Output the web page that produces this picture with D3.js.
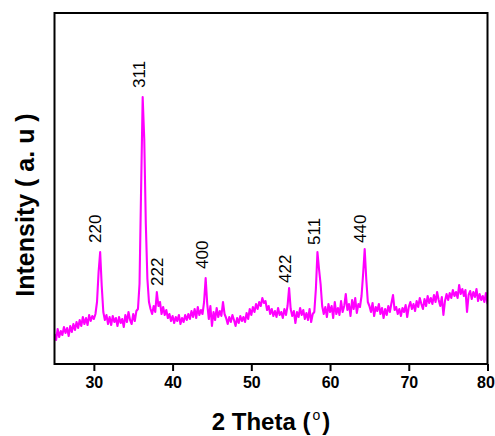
<!DOCTYPE html>
<html>
<head>
<meta charset="utf-8">
<script src="https://cdn.jsdelivr.net/npm/d3@7"></script>
<style>
  html, body { margin: 0; padding: 0; background: #fff; }
  svg { display: block; }
</style>
</head>
<body>
<svg id="chart" width="495" height="436"></svg>
<script>
// ---- data ----
const twoThetaStart = 25;
const twoThetaStep = 0.2;
const intensity = [
  30, 24, 35, 27, 33,
  29, 37, 31, 36, 28,
  38, 32, 40, 34, 42,
  36, 44, 38, 47, 40,
  46, 39, 49, 43, 48,
  45, 50, 62, 92, 112,
  78, 52, 44, 49, 40,
  47, 39, 48, 42, 46,
  38, 47, 41, 45, 37,
  49, 42, 52, 44, 40,
  50, 43, 53, 55, 80,
  175, 267, 225, 140, 85,
  62, 55, 50, 58, 52,
  72, 58, 62, 50, 57,
  49, 54, 46, 50, 43,
  48, 41, 47, 43, 49,
  40, 46, 42, 49, 44,
  50, 45, 53, 47, 55,
  46, 57, 49, 54, 50,
  62, 86, 60, 45, 58,
  38, 52, 44, 56, 47,
  53, 48, 62, 50, 46,
  40, 47, 42, 49, 44,
  38, 46, 41, 48, 43,
  47, 42, 51, 45, 55,
  49, 57, 52, 60, 55,
  62, 58, 66, 61, 63,
  54, 58, 50, 55, 48,
  53, 47, 56, 49, 52,
  46, 55, 49, 58, 76,
  55, 48, 53, 41, 52,
  47, 56, 49, 54, 45,
  51, 44, 55, 42, 50,
  52, 75, 112, 95, 80,
  58, 50, 57, 47, 60,
  52, 58, 46, 62, 50,
  56, 49, 63, 52, 58,
  70, 54, 60, 48, 64,
  55, 66, 51, 60, 57,
  68, 90, 115, 85, 62,
  58, 52, 61, 48, 57,
  53, 60, 50, 56, 46,
  55, 49, 58, 52, 61,
  69, 54, 57, 50, 55,
  48, 56, 52, 59, 47,
  57, 62, 55, 60, 53,
  63, 57, 66, 60, 55,
  65, 58, 68, 61, 66,
  60, 69, 62, 72, 64,
  58, 67, 49, 63, 70,
  64, 71, 66, 74, 68,
  72, 66, 79, 70, 75,
  68, 74, 52, 69, 73,
  65, 72, 67, 75, 63,
  70, 64, 68, 62, 71,
  60
];
const xTicks = [30, 40, 50, 60, 70, 80];
const peakLabels = ["220", "311", "222", "400", "422", "511", "440"];
const labelTheta = [30.92, 36.51, 38.74, 44.53, 55.09, 58.78, 64.63];
const labelIntensity = [121, 276, 78, 95, 81, 119, 121];

// ---- layout ----
const svg = d3.select("#chart");
const plotL = 54.5, plotR = 487.5, plotT = 13, plotB = 364;
const x = d3.scaleLinear().domain([25, 80]).range([plotL, plotR]);
const y = d3.scaleLinear().domain([0, 351]).range([plotB, plotT]);

const points = intensity.map((v, i) => ({ t: twoThetaStart + i * twoThetaStep, v }));

svg.append("defs").append("clipPath").attr("id", "clip")
  .append("rect").attr("x", plotL).attr("y", plotT)
  .attr("width", plotR - plotL).attr("height", plotB - plotT);

// trace
svg.append("path")
  .datum(points)
  .attr("clip-path", "url(#clip)")
  .attr("fill", "none")
  .attr("stroke", "#ff00ff")
  .attr("stroke-width", 2.1)
  .attr("stroke-linejoin", "round")
  .attr("d", d3.line().x(d => x(d.t)).y(d => y(d.v)));

// frame
svg.append("rect")
  .attr("x", plotL).attr("y", plotT)
  .attr("width", plotR - plotL).attr("height", plotB - plotT)
  .attr("fill", "none").attr("stroke", "#000").attr("stroke-width", 2);

// x axis
const xAxis = svg.append("g")
  .attr("transform", `translate(0,${plotB})`)
  .call(d3.axisBottom(x).tickValues(xTicks).tickSize(7).tickPadding(6).tickFormat(d3.format("d")));
xAxis.select(".domain").remove();
xAxis.selectAll(".tick line").attr("stroke", "#000").attr("stroke-width", 2);
xAxis.selectAll(".tick text")
  .attr("fill", "#000")
  .attr("dx", d => d === 80 ? -2 : 0)
  .style("font-family", "'Liberation Sans', Arial, sans-serif")
  .style("font-weight", "bold")
  .style("font-size", "16px");

// peak labels
svg.append("g").selectAll("text")
  .data(peakLabels)
  .join("text")
  .attr("transform", (d, i) => `translate(${x(labelTheta[i])},${y(labelIntensity[i])}) rotate(-90)`)
  .attr("text-anchor", "start")
  .style("font-family", "'Liberation Sans', Arial, sans-serif")
  .style("font-size", "17px")
  .attr("fill", "#000")
  .text(d => d);

// x title
const xt = svg.append("text")
  .attr("x", (plotL + plotR) / 2)
  .attr("y", 430)
  .attr("text-anchor", "middle")
  .style("font-family", "'Liberation Sans', Arial, sans-serif")
  .style("font-weight", "bold")
  .style("font-size", "24px")
  .attr("fill", "#000");
xt.append("tspan").text("2 Theta (");
xt.append("tspan").attr("dx", 2).attr("dy", -10).style("font-size", "14px").style("font-weight", "normal").text("o");
xt.append("tspan").attr("dx", 2).attr("dy", 10).text(")");

// y title
svg.append("text")
  .attr("transform", `translate(34,205) rotate(-90)`)
  .attr("text-anchor", "middle")
  .style("font-family", "'Liberation Sans', Arial, sans-serif")
  .style("font-weight", "bold")
  .style("font-size", "25px")
  .attr("fill", "#000")
  .text("Intensity ( a. u )");
</script>
</body>
</html>
